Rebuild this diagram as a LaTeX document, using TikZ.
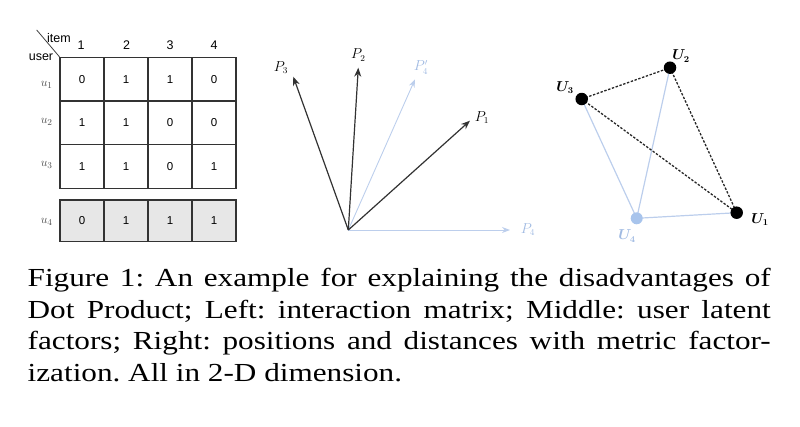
\documentclass[tikz,border=0pt]{standalone}
\usepackage{amsmath}
\usepackage{fontspec}
\setmainfont{Liberation Serif}
\setsansfont{Liberation Sans}
\newfontfamily\capfont[FakeStretch=1.2]{Liberation Serif}
\usetikzlibrary{arrows.meta}
\definecolor{lbline}{RGB}{188,206,236}
\definecolor{lbtext}{RGB}{160,186,226}
\definecolor{lbdot}{RGB}{168,196,236}
\definecolor{cellgray}{RGB}{231,231,231}
\definecolor{dark}{RGB}{50,50,50}
\begin{document}
\begin{tikzpicture}[x=1pt,y=-1pt,
  cell/.style={draw=black!80, line width=1.1pt, minimum width=44pt, minimum height=43.7pt, inner sep=0pt, font=\sffamily\fontsize{11.5}{13}\selectfont},
  gcell/.style={cell, fill=cellgray, minimum height=41.7pt},
  hdr/.style={inner sep=0pt, font=\sffamily\fontsize{12.5}{14}\selectfont},
  ulab/.style={inner sep=0pt, text=black!70, font=\fontsize{13}{15}\selectfont},
  vec/.style={draw=dark, line width=1.2pt, -{Stealth[length=9pt,width=7pt]}},
  lvec/.style={draw=lbline, line width=0.9pt, -{Stealth[length=8pt,width=6pt]}},
  plab/.style={inner sep=0pt, font=\fontsize{13.5}{15}\selectfont},
  bdot/.style={circle, fill=black, inner sep=0pt, minimum size=12.5pt},
  ldot/.style={circle, fill=lbdot, inner sep=0pt, minimum size=12pt},
  dsh/.style={draw=black!85, line width=1.3pt, dash pattern=on 2.4pt off 1.6pt},
  lline/.style={draw=lbline, line width=1.2pt},
  ulbl/.style={inner sep=0pt, font=\fontsize{13.5}{15}\selectfont}
]
\path[use as bounding box] (0,0) rectangle (800,426);

% ---------- matrix ----------
\foreach \v [count=\j] in {0,1,1,0} \node[cell] (a1\j) at ({38+44*\j},79.2) {\v};
\foreach \v [count=\j] in {1,1,0,0} \node[cell] (a2\j) at ({38+44*\j},122.7) {\v};
\foreach \v [count=\j] in {1,1,0,1} \node[cell] (a3\j) at ({38+44*\j},166.3) {\v};
\foreach \v [count=\j] in {0,1,1,1} \node[gcell] (a4\j) at ({38+44*\j},220.8) {\v};

\node[hdr] (h1) at (81,45) {1};
\node[hdr] (h2) at (126.5,45) {2};
\node[hdr] (h3) at (170,45) {3};
\node[hdr] (h4) at (214,45) {4};
\node[hdr] (item) at (59,38.3) {item};
\node[hdr] (user) at (41,57.3) {user};
\coordinate (dg) at (36.7,30);
\draw[black!75, line width=0.8pt] (dg) -- (a11.north west);

\node[ulab] (u1) at (46.7,85) {$u_1$};
\node[ulab] (u2) at (46.7,121.7) {$u_2$};
\node[ulab] (u3) at (46.7,165) {$u_3$};
\node[ulab] (u4) at (46.7,221.7) {$u_4$};

% ---------- vectors ----------
\coordinate (O) at (348.3,230);
\coordinate (t1) at (470,120.7);
\coordinate (t2) at (358.3,67.7);
\coordinate (t3) at (293.3,76.7);
\coordinate (t4) at (510,230);
\coordinate (t4p) at (415,79.3);
\draw[lvec] (O) -- (t4p);
\draw[lvec] (O) -- (t4);
\draw[vec] (O) -- (t3);
\draw[vec] (O) -- (t2);
\draw[vec] (O) -- (t1);
\node[plab] (P1) at (482,117.3) {$P_1$};
\node[plab] (P2) at (358.3,55) {$P_2$};
\node[plab] (P3) at (281,67.3) {$P_3$};
\node[plab, text=lbtext] (P4p) at (421,67.3) {$P'_4$};
\node[plab, text=lbtext] (P4) at (528,229.3) {$P_4$};

% ---------- metric ----------
\coordinate (c1) at (736.7,212.7);
\coordinate (c2) at (670,67.7);
\coordinate (c3) at (581.7,99);
\coordinate (c4) at (636.7,218.3);
\draw[lline] (c4) -- (c3);
\draw[lline] (c4) -- (c2);
\draw[lline] (c4) -- (c1);
\draw[dsh] (c3) -- (c2);
\draw[dsh] (c2) -- (c1);
\draw[dsh] (c3) -- (c1);
\node[bdot] (U1) at (c1) {};
\node[bdot] (U2) at (c2) {};
\node[bdot] (U3) at (c3) {};
\node[ldot] (U4) at (c4) {};
\node[ulbl] (L1) at (760,219.3) {$\boldsymbol{U_1}$};
\node[ulbl] (L2) at (681,56) {$\boldsymbol{U_2}$};
\node[ulbl] (L3) at (565,87.3) {$\boldsymbol{U_3}$};
\node[ulbl, text=lbtext] (L4) at (627,236) {$\boldsymbol{U_4}$};

% ---------- caption ----------
\node[anchor=north west, inner sep=0pt, text width=743pt, align=justify,
      font=\capfont\fontsize{26}{31.5}\selectfont] (cap) at (27.5,266.7)
{\frenchspacing\rule{0pt}{20pt}Figure 1: An example for explaining the disadvantages of\linebreak
Dot Product; Left: interaction matrix; Middle: user latent\linebreak
factors; Right: positions and distances with metric factor-\linebreak{}ization. All in 2-D dimension.};
\end{tikzpicture}
\end{document}
